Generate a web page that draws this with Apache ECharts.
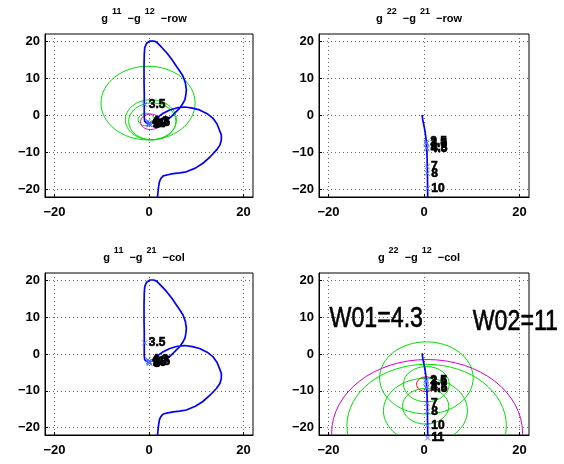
<!DOCTYPE html>
<html><head><meta charset="utf-8">
<script src="https://cdn.jsdelivr.net/npm/echarts@6/dist/echarts.min.js"></script>
<style>html,body{margin:0;padding:0;background:#fff}#c{width:564px;height:464px}</style>
</head><body><div id="c"></div>
<script>
// ---- data ----
const xTicks = [-20, 0, 20];
const yTicks = [-20, -10, 0, 10, 20];
const axisMin = -22, axisMax = 22;

// g11 Nyquist curve (real, imag)
const g11 = [
[0.3,-1.9],[-0.3,-2.2],[-0.9,-1.6],[-0.6,-1.1],[-1.0,-0.6],[-1.0,1.5],[-1.0,3.5],[-1.0,6],[-1.05,9],[-1.05,13.3],[-1.0,16.5],[-0.9,18.3],[-0.5,19.5],[0.2,20.1],[1.0,20.1],[1.6,19.8],[2.6,18.5],[3.7,17.0],[4.8,15.2],[5.8,13.3],[6.6,11.8],[7.2,10.6],[7.7,8.8],[7.9,7.0],[7.8,5.6],[7.6,4.3],[7.1,3.1],[6.5,2.0],[5.8,1.1],[5.1,0.2],[4.0,-1.1],[3.0,-2.1],[2.0,-2.5],[1.2,-2.2],[0.9,-1.6],[1.3,-0.9],[2.0,-0.3],[3.0,0.6],[4.4,1.5],[6.0,2.1],[7.6,2.3],[9.2,2.0],[10.7,1.5],[12.3,0.5],[13.5,-0.7],[14.4,-2.3],[14.9,-3.9],[15.3,-5.3],[15.3,-6.6],[15.0,-8.0],[14.3,-9.3],[12.9,-11.2],[11.4,-12.9],[9.8,-14.2],[7.9,-15.2],[6.5,-15.5],[5.1,-15.7],[4.0,-16.0],[3.0,-16.3],[2.5,-17.0],[2.2,-17.9],[2.0,-19.5],[1.8,-22],[1.7,-24]
];
// g22 Nyquist curve
const g22 = [
[-0.4,0.2],[-0.25,-1.2],[-0.05,-2.5],[0.15,-3.8],[0.3,-5],[0.42,-6.3],[0.5,-7.5],[0.57,-8.8],[0.62,-10.2],[0.66,-12],[0.7,-14],[0.72,-16],[0.74,-18],[0.76,-20],[0.78,-22],[0.8,-24]
];

// frequency labels: [real, imag, text]
const g11Labels = [
[-0.9,3.0,'3.5'],[-0.2,-1.6,'4.3'],[0.1,-2.0,'4.5'],[0.2,-2.4,'7'],[0.1,-2.5,'8'],[0.0,-2.3,'10'],[-0.1,-2.1,'11']
];
const g22LabelsRow = [
[0.45,-7.2,'2.5'],[0.5,-7.6,'3.5'],[0.55,-8.7,'4.3'],[0.57,-9.0,'4.5'],[0.65,-13.8,'7'],[0.67,-15.6,'8'],[0.7,-19.7,'10']
];
const g22LabelsCol = [
[0.45,-7.2,'2.5'],[0.5,-7.6,'3.5'],[0.55,-9.0,'4.3'],[0.57,-9.4,'4.5'],[0.65,-13.4,'7'],[0.67,-15.6,'8'],[0.7,-19.5,'10'],[0.75,-22.8,'11']
];

// Gershgorin circles: [centre real, centre imag, radius]
const rowBandCircles = [[-0.2,3.35,9.95],[0.4,-1.15,5.4],[0.7,-1.6,5.0],[-0.6,-1.1,1.7]];
const rowW02Circles = [[0.3,-1.7,2.1]];
const colBandCircles = [[0.5,-6.5,9.8],[0.55,-19.5,16.7],[0.5,-8.2,4.8],[0.3,-15.4,8.8],[0.35,-14.2,4.85]];
const colW02Circles = [[0.65,-21.5,20]];
const colW01Circles = [[0.45,-8.2,2]];

// annotations: [real, imag, text]
const annotations = [[-19.8,9.6,'W01=4.3'],[10.2,8.7,'W02=11']];

const titles = [
  ['11','12','row'], ['22','21','row'], ['11','21','col'], ['22','12','col']
];

// ---- layout ----
const FONT = 'Liberation Sans, Arial, sans-serif';
const grids = [
  {left:45, top:34, width:208, height:163},
  {left:319, top:34, width:210, height:163},
  {left:45, top:273, width:208, height:162},
  {left:319, top:273, width:210, height:162}
];
const fmt = v => (v < 0 ? '\u2212' + Math.abs(v) : String(v));
const axisCommon = {
  type:'value', min:axisMin, max:axisMax,
  axisLine:{show:true, onZero:false, lineStyle:{color:'#000', width:1}},
  axisTick:{show:true, inside:true, length:3, lineStyle:{color:'#000'}},
  axisLabel:{color:'#000', fontWeight:'bold', fontSize:13, fontFamily:FONT, formatter:fmt},
  splitLine:{show:true, lineStyle:{color:'#666', type:[1,3], width:1}}
};
const xAxes = grids.map((g,i)=>Object.assign({}, axisCommon, {gridIndex:i,
  axisLabel:Object.assign({}, axisCommon.axisLabel, {customValues:xTicks, margin:9}),
  axisTick:Object.assign({}, axisCommon.axisTick, {customValues:xTicks})}));
const yAxes = grids.map((g,i)=>Object.assign({}, axisCommon, {gridIndex:i,
  axisLabel:Object.assign({}, axisCommon.axisLabel, {customValues:yTicks, margin:5}),
  axisTick:Object.assign({}, axisCommon.axisTick, {customValues:yTicks})}));

const titleOpts = titles.map((t,i)=>({
  text:'{b|g}{s|'+t[0]+'}{b|\u2212g}{s|'+t[1]+'}{b|\u2212'+t[2]+'}',
  left: grids[i].left + grids[i].width/2 - 10,
  top: grids[i].top - 33,
  textAlign:'center',
  textStyle:{rich:{
    b:{fontSize:11, fontWeight:'bold', color:'#000', fontFamily:FONT, lineHeight:18, verticalAlign:'bottom'},
    s:{fontSize:9, fontWeight:'bold', color:'#000', fontFamily:FONT, lineHeight:18, verticalAlign:'top', padding:[1,6,0,4]}
  }}
}));

function curve(idx, data){
  return {type:'line', xAxisIndex:idx, yAxisIndex:idx, data:data, symbol:'none', showSymbol:false,
    lineStyle:{color:'#0000ff', width:1.7}, clip:true, animation:false, z:3, silent:true};
}
function circles(idx, data, color){
  return {type:'custom', xAxisIndex:idx, yAxisIndex:idx, data:data, clip:false, silent:true, animation:false, z:2,
    renderItem:(params, api)=>{
      const c = api.coord([api.value(0), api.value(1)]);
      const s = api.size([api.value(2), api.value(2)]);
      const cs = params.coordSys;
      return {type:'ellipse', shape:{cx:c[0], cy:c[1], rx:s[0], ry:s[1]},
        style:{fill:null, stroke:color, lineWidth:1},
        clipPath:{type:'rect', shape:{x:cs.x, y:cs.y, width:cs.width, height:cs.height}}};
    }};
}
function labels(idx, data){
  return {type:'scatter', xAxisIndex:idx, yAxisIndex:idx, clip:false, silent:true, animation:false, z:4,
    data:data.map(d=>({value:[d[0],d[1]], name:d[2]})),
    symbol:'path://M0 0L10 10M10 0L0 10', symbolSize:5,
    itemStyle:{color:'none', borderColor:'#4a6cff', borderWidth:1, opacity:1},
    label:{show:true, position:'right', distance:-1, formatter:'{b}', color:'#000', opacity:1,
      fontWeight:'bold', fontSize:12, fontFamily:FONT, textBorderColor:'#000', textBorderWidth:0.6}};
}

const option = {
  animation:false,
  backgroundColor:'#fff',
  title:titleOpts,
  grid:grids.map(g=>Object.assign({show:true, borderColor:'#000', borderWidth:1, backgroundColor:'transparent'}, g)),
  xAxis:xAxes,
  yAxis:yAxes,
  series:[
    circles(0, rowBandCircles, '#00e000'),
    circles(0, rowW02Circles, '#e000e0'),
    curve(0, g11),
    labels(0, g11Labels),
    curve(1, g22),
    labels(1, g22LabelsRow),
    curve(2, g11),
    labels(2, g11Labels),
    circles(3, colBandCircles, '#00e000'),
    circles(3, colW02Circles, '#d000d0'),
    circles(3, colW01Circles, '#ff0000'),
    curve(3, g22),
    labels(3, g22LabelsCol)
  ]
};
const chart = echarts.init(document.getElementById('c'), null, {renderer:'canvas'});
chart.setOption(option);
// big annotations placed at their data coordinates via the axes of the 4th plot
const annoGraphics = annotations.map(a=>{
  const p = chart.convertToPixel({gridIndex:3}, [a[0], a[1]]);
  return {type:'text', x:p[0], y:p[1], scaleX:0.8, z:10, silent:true,
    style:{text:a[2], fill:'#000', font:'29px Liberation Sans, Arial, sans-serif',
      textVerticalAlign:'middle', verticalAlign:'middle', stroke:'#000', lineWidth:0.6}};
});
chart.setOption({graphic:annoGraphics});
</script></body></html>
